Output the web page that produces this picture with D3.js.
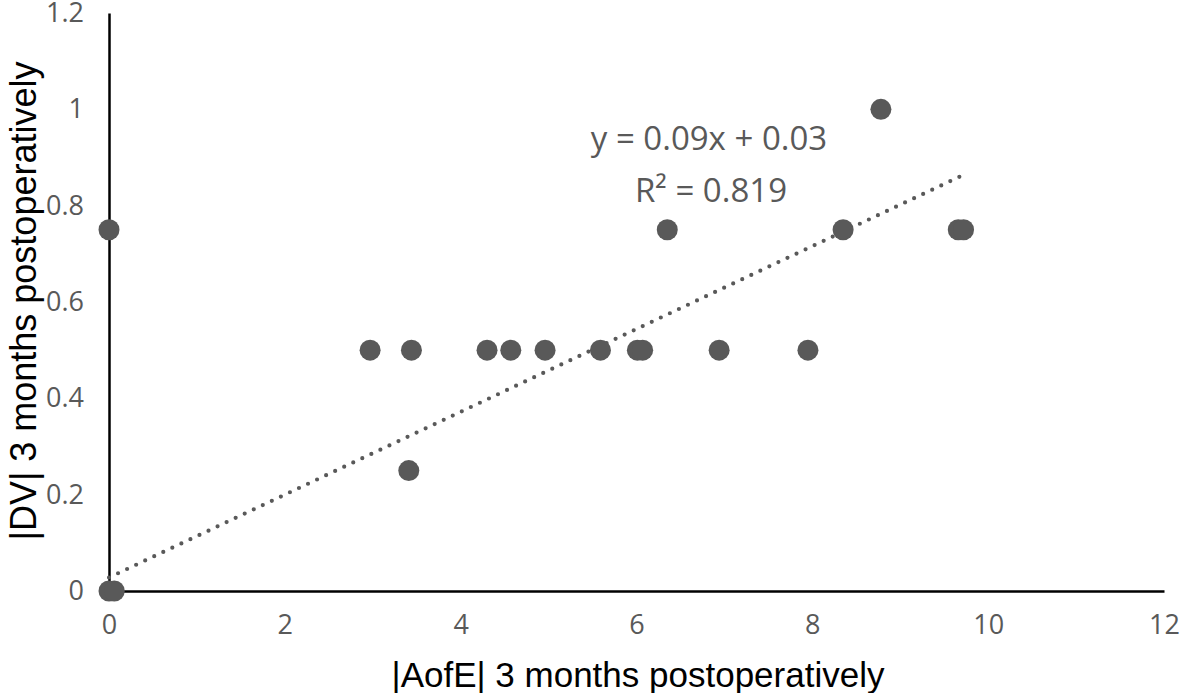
<!DOCTYPE html>
<html><head><meta charset="utf-8">
<script src="https://cdn.jsdelivr.net/npm/d3@7"></script>
<style>body{margin:0;background:#fff}svg{display:block}</style>
</head><body>
<svg id="c" width="1181" height="693"></svg>
<script>
const xValues = [0, 0.06, 0, 2.97, 3.41, 3.44, 4.30, 4.57, 4.96, 5.59, 6.01, 6.07, 6.35, 6.94, 7.95, 8.35, 8.78, 9.66, 9.72];
const yValues = [0, 0, 0.75, 0.5, 0.25, 0.5, 0.5, 0.5, 0.5, 0.5, 0.5, 0.5, 0.75, 0.5, 0.5, 0.75, 1.0, 0.75, 0.75];
const xTicks = [0, 2, 4, 6, 8, 10, 12];
const yTicks = [0, 0.2, 0.4, 0.6, 0.8, 1, 1.2];
const trendSlope = 0.086, trendIntercept = 0.028;
const equationLines = ["y = 0.09x + 0.03", "R² = 0.819"];
const xTitle = "|AofE| 3 months postoperatively";
const yTitle = "|DV| 3 months postoperatively";

const svg = d3.select("#c");
const x = d3.scaleLinear().domain([0, 12]).range([109, 1164]);
const y = d3.scaleLinear().domain([0, 1.2]).range([591, 13]);
const grey = "#595959";
const tickFont = "'Open Sans', 'Noto Sans', sans-serif";

// axes
const xAxis = svg.append("g").attr("transform", `translate(0,${y(0)})`)
  .call(d3.axisBottom(x).tickValues(xTicks).tickSize(0).tickPadding(24).tickFormat(d3.format("")));
xAxis.select(".domain").attr("stroke", "#000").attr("stroke-width", 2.5);
xAxis.selectAll("text").attr("fill", grey).style("font-family", tickFont).style("font-size", "27px");

const yAxis = svg.append("g").attr("transform", `translate(${x(0)},0)`)
  .call(d3.axisLeft(y).tickValues(yTicks).tickSize(0).tickPadding(25).tickFormat(d3.format("")));
yAxis.select(".domain").attr("stroke", "#000").attr("stroke-width", 2.5);
yAxis.selectAll("text").attr("fill", grey).style("font-family", tickFont).style("font-size", "27px");

// trendline
const xMax = d3.max(xValues);
svg.append("line")
  .attr("x1", x(0)).attr("y1", y(trendIntercept))
  .attr("x2", x(xMax)).attr("y2", y(trendIntercept + trendSlope * xMax))
  .attr("stroke", grey).attr("stroke-width", 4.2)
  .attr("stroke-linecap", "round").attr("stroke-dasharray", "0 10");

// points
svg.append("g").selectAll("circle").data(xValues.map((v, i) => [v, yValues[i]]))
  .join("circle").attr("cx", d => x(d[0])).attr("cy", d => y(d[1])).attr("r", 10.5).attr("fill", grey);

// equation
svg.append("g").selectAll("text").data(equationLines).join("text")
  .attr("x", (d, i) => i === 0 ? 709 : 711).attr("y", (d, i) => 150 + i * 52)
  .attr("text-anchor", "middle").attr("fill", grey)
  .style("font-family", tickFont).style("font-size", "33px").text(d => d);

// titles
svg.append("text").attr("x", 638).attr("y", 687).attr("text-anchor", "middle")
  .style("font-family", "'Liberation Sans', Arial, sans-serif").style("font-size", "35px").attr("fill", "#000").text(xTitle);
svg.append("text").attr("transform", "translate(36,301) rotate(-90)").attr("text-anchor", "middle")
  .style("font-family", "'Liberation Sans', Arial, sans-serif").style("font-size", "36px").attr("fill", "#000").text(yTitle);
</script>
</body></html>
